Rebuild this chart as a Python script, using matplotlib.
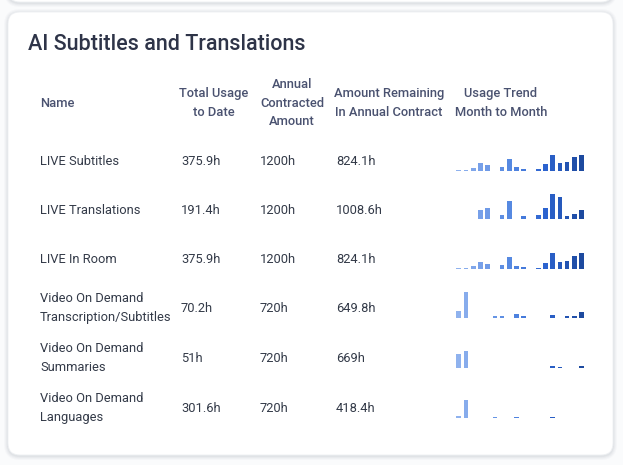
import matplotlib
matplotlib.use('Agg')
import matplotlib.pyplot as plt
from matplotlib.patches import FancyBboxPatch
from matplotlib.colors import LinearSegmentedColormap

plt.rcParams['font.family'] = ['Roboto', 'DejaVu Sans']

# table data
title = 'AI Subtitles and Translations'
headers = ['Name', 'Total Usage\nto Date', 'Annual\nContracted\nAmount',
           'Amount Remaining\nIn Annual Contract', 'Usage Trend\nMonth to Month']
names = ['LIVE Subtitles', 'LIVE Translations', 'LIVE In Room',
         'Video On Demand\nTranscription/Subtitles', 'Video On Demand\nSummaries',
         'Video On Demand\nLanguages']
total_usage = ['375.9h', '191.4h', '375.9h', '70.2h', '51h', '301.6h']
contracted = ['1200h', '1200h', '1200h', '720h', '720h', '720h']
remaining = ['824.1h', '1008.6h', '824.1h', '649.8h', '669h', '418.4h']

# monthly usage (sparkline values)
trend_subtitles = [3, 3, 9, 22, 16, 0, 11, 35, 10, 5, 0, 5, 19, 47, 22, 26, 40, 48]
trend_translations = [0, 2, 0, 28, 34, 0, 13, 55, 0, 11, 0, 12, 34, 75, 68, 9, 16, 27]
trend_in_room = [2, 2, 8, 20, 15, 0, 10, 34, 8, 4, 0, 3, 18, 46, 20, 24, 38, 47]
trend_vod_transcription = [20, 76, 0, 0, 0, 4, 4, 0, 12, 4, 0, 0, 0, 8, 0, 4, 4, 16]
trend_vod_summaries = [40, 51, 0, 0, 0, 0, 0, 0, 0, 0, 0, 0, 0, 4, 3, 0, 0, 4]
trend_vod_languages = [5, 53, 0, 0, 0, 2, 0, 0, 2, 0, 0, 0, 0, 2, 0, 0, 0, 0]
trends = [trend_subtitles, trend_translations, trend_in_room,
          trend_vod_transcription, trend_vod_summaries, trend_vod_languages]

W, H = 623, 465
fig = plt.figure(figsize=(W / 100, H / 100), dpi=100)
fig.patch.set_facecolor('#fafbfc')

ax = fig.add_axes([0, 0, 1, 1])
ax.set_xlim(0, W)
ax.set_ylim(H, 0)
ax.axis('off')

def card(x0, y0, x1, y1):
    # soft shadow
    for i, a in enumerate([0.02, 0.025, 0.03, 0.035]):
        d = 4 - i
        ax.add_patch(FancyBboxPatch((x0 - d, y0 - d + 1), x1 - x0 + 2 * d, y1 - y0 + 2 * d,
                                    boxstyle='round,pad=0,rounding_size=%d' % (12 + d),
                                    fc='#1c2540', ec='none', alpha=a, zorder=1))
    ax.add_patch(FancyBboxPatch((x0, y0), x1 - x0, y1 - y0,
                                boxstyle='round,pad=0,rounding_size=12',
                                fc='white', ec='#eef0f3', lw=0.6, zorder=2))

card(8, -40, 613, 2)
card(8, 12, 613, 455)

ax.text(28, 45, title, fontsize=15.5, fontweight='medium', color='#2e3448',
        va='center', ha='left', zorder=3)

hdr_color = '#4a5270'
body_color = '#333a48'
hfs = 9.3
ls = 1.58
hdr_x = [40, 214, 292, 389, 501]
hdr_ha = ['left', 'center', 'center', 'center', 'center']
for j, h in enumerate(headers):
    ax.text(hdr_x[j], 103, h, fontsize=hfs, fontweight='medium', color=hdr_color,
            va='center', ha=hdr_ha[j], multialignment='center', linespacing=ls, zorder=3)

row_y = [161, 210, 259, 308, 358, 408]
bfs = 9.3
for i, y in enumerate(row_y):
    ax.text(40, y, names[i], fontsize=bfs, color=body_color, va='center', ha='left',
            linespacing=ls, zorder=3)
    ax.text(181, y, total_usage[i], fontsize=bfs, color=body_color, va='center', ha='left', zorder=3)
    ax.text(260, y, contracted[i], fontsize=bfs, color=body_color, va='center', ha='left', zorder=3)
    ax.text(336, y, remaining[i], fontsize=bfs, color=body_color, va='center', ha='left', zorder=3)

# sparklines
cmap = LinearSegmentedColormap.from_list(
    'trend', [(0, '#8fb2ee'), (0.45, '#5185e0'), (0.7, '#2c63d0'), (1, '#1d4a9f')])
n = len(trend_subtitles)
step = 7.23
x_left = 458.7 - step / 2
for i, y in enumerate(row_y):
    base = y + 9.5
    sax = fig.add_axes([x_left / W, 1 - base / H, n * step / W, 26 / H])
    sax.set_xlim(-0.5, n - 0.5)
    sax.set_ylim(0, 78)
    sax.axis('off')
    sax.patch.set_alpha(0)
    cols = [cmap(k / (n - 1)) for k in range(n)]
    sax.bar(range(n), trends[i], width=0.65, color=cols, linewidth=0)

fig.savefig('out.png', dpi=100, facecolor=fig.get_facecolor())
